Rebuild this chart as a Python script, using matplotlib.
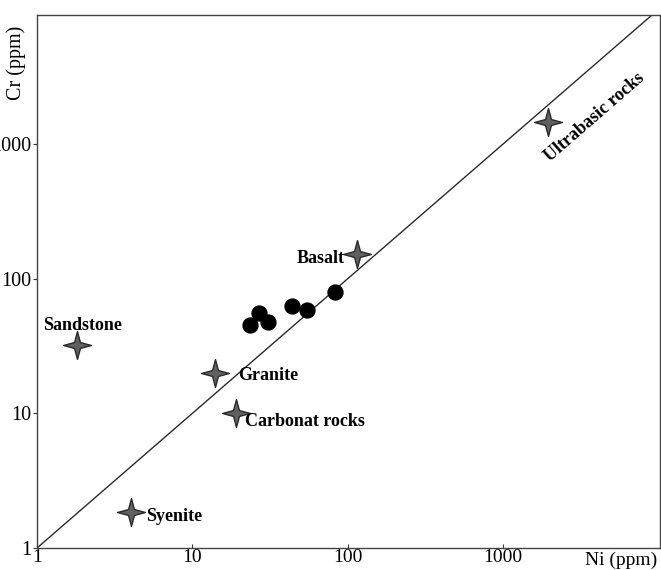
import numpy as np
import matplotlib.pyplot as plt
from matplotlib.path import Path

plt.rcParams['font.family'] = ['Liberation Serif', 'DejaVu Serif']

# reference rocks (Ni, Cr in ppm)
rock_names = ['Sandstone', 'Granite', 'Carbonat rocks', 'Syenite', 'Basalt', 'Ultrabasic rocks']
rock_ni = [1.8, 14, 19, 4.0, 115, 1950]
rock_cr = [32, 20, 10, 1.85, 153, 1470]

# samples
sample_ni = [23.4, 26.8, 30.6, 43.6, 54.5, 82.5]
sample_cr = [45.5, 55.9, 47.9, 63.0, 58.8, 80.0]

# label offsets (points), alignment, rotation
label_style = {
    'Sandstone': ((4, 14), 'center', 0),
    'Granite': ((17, -2), 'left', 0),
    'Carbonat rocks': ((7, -6), 'left', 0),
    'Syenite': ((11, -3), 'left', 0),
    'Basalt': ((-9, -3), 'right', 0),
    'Ultrabasic rocks': ((34, 3), 'center', 41),
}

# four-pointed star with concave sides
ang = np.arange(8) * np.pi / 4
rad = np.where(np.arange(8) % 2 == 0, 1.0, 0.3)
verts = np.column_stack([rad * np.sin(ang), rad * np.cos(ang)])
verts = np.vstack([verts, verts[:1]])
star = Path(verts, closed=True)

fig = plt.figure(figsize=(6.61, 5.70), dpi=100)
ax = fig.add_axes([0.056, 0.0386, 0.942, 0.935])

xmax, ymax = 10**4.01, 10**3.96
ax.plot([1, ymax], [1, ymax], color='#2a2a2a', lw=1.0)

ax.scatter(sample_ni, sample_cr, s=115, color='black', zorder=3)
ax.plot(rock_ni, rock_cr, ls='none', marker=star, ms=20,
        mfc='#606060', mec='#2a2a2a', mew=1.0, zorder=3)

for name, x, y in zip(rock_names, rock_ni, rock_cr):
    off, ha, rot = label_style[name]
    ax.annotate(name, (x, y), xytext=off, textcoords='offset points',
                ha=ha, va='center', rotation=rot, fontsize=13,
                fontweight='bold')

ax.set_xscale('log')
ax.set_yscale('log')
ax.set_xlim(1, xmax)
ax.set_ylim(1, ymax)
ax.set_xticks([1, 10, 100, 1000])
ax.set_xticklabels(['1', '10', '100', '1000'])
ax.set_yticks([1, 10, 100, 1000])
ax.set_yticklabels(['1', '10', '100', '1000'])
ax.minorticks_off()
ax.tick_params(labelsize=14.5, length=3, width=0.8, color='#333333', pad=1)
ax.tick_params(axis='x', direction='in', pad=1, labelsize=14)
for s in ax.spines.values():
    s.set_color('#444444')
    s.set_linewidth(1.0)

fig.text(0.024, 0.89, 'Cr (ppm)', rotation=90, ha='center', va='center', fontsize=14.5)
fig.text(0.885, 0.017, 'Ni (ppm)', ha='left', va='center', fontsize=14)

fig.savefig('out.png', dpi=100)
